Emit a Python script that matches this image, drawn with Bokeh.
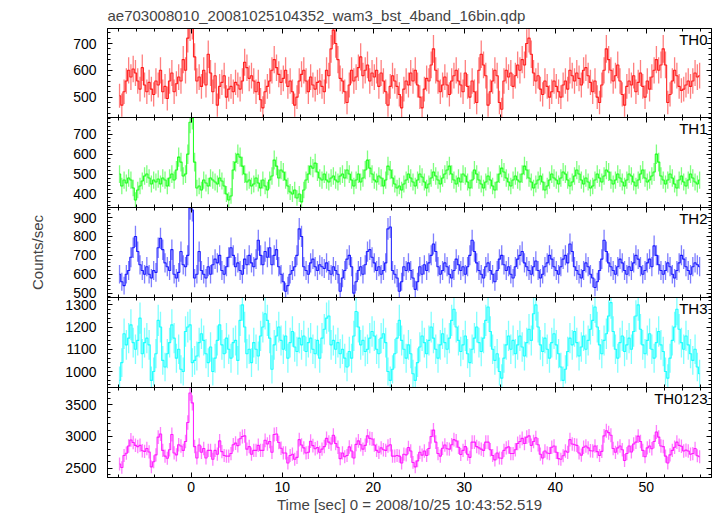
import numpy as np
from bokeh.plotting import figure
from bokeh.layouts import column
from bokeh.models import Range1d, SingleIntervalTicker, LinearAxis, Label, ColumnDataSource
from bokeh.embed import file_html
from bokeh.resources import INLINE

title_text = "ae703008010_20081025104352_wam3_bst_4band_16bin.qdp"
x_label = "Time [sec] 0 = 2008/10/25 10:43:52.519"
y_label = "Counts/sec"
band_names = ["TH0", "TH1", "TH2", "TH3", "TH0123"]

t_start = -8.0
bin_width = 0.25

th0 = [
    505, 470, 520, 560, 600, 575, 605, 590, 560, 530, 610, 545, 520, 555, 530, 510,
    560, 545, 600, 520, 540, 495, 560, 590, 520, 550, 575, 560, 640, 600, 720, 765,
    770, 650, 560, 575, 540, 600, 545, 660, 590, 520, 580, 470, 540, 555, 580, 500,
    530, 540, 520, 555, 545, 530, 560, 630, 610, 570, 580, 560, 520, 555, 490, 460,
    520, 540, 560, 600, 640, 610, 585, 555, 570, 600, 540, 560, 520, 470, 500, 560,
    585, 600, 560, 520, 575, 545, 530, 555, 560, 540, 520, 600, 580, 680, 750, 700,
    640, 570, 560, 520, 480, 545, 600, 560, 575, 610, 650, 580, 600, 620, 560, 590,
    575, 600, 540, 590, 560, 520, 470, 540, 580, 560, 540, 510, 460, 530, 560, 545,
    590, 560, 600, 545, 500, 460, 530, 570, 560, 620, 680, 600, 560, 520, 545, 575,
    545, 510, 560, 580, 600, 560, 545, 520, 590, 540, 500, 560, 520, 480, 600, 660,
    620, 580, 470, 520, 560, 600, 580, 480, 455, 560, 600, 575, 590, 540, 580, 620,
    600, 640, 620, 700, 720, 660, 590, 560, 580, 530, 510, 560, 540, 500, 520, 560,
    540, 520, 500, 545, 560, 530, 600, 580, 560, 590, 570, 545, 600, 610, 580, 555,
    520, 560, 500, 480, 545, 600, 680, 640, 600, 560, 580, 620, 560, 510, 470, 540,
    560, 545, 580, 520, 555, 590, 540, 500, 560, 530, 575, 600, 640, 600, 620, 680,
    620, 480, 510, 560, 600, 580, 540, 525, 530, 545, 560, 540, 560, 590, 575, 580,
]

th1 = [
    500, 440, 470, 455, 480, 470, 430, 370, 420, 440, 465, 490, 500, 480, 450, 470,
    460, 475, 450, 480, 470, 440, 480, 500, 470, 520, 585, 560, 490, 500, 600, 760,
    780, 560, 430, 440, 420, 470, 455, 440, 480, 470, 460, 450, 480, 465, 440, 400,
    370, 390, 520, 560, 600, 585, 540, 500, 460, 470, 440, 450, 480, 455, 430, 470,
    440, 420, 470, 490, 570, 540, 480, 520, 510, 470, 440, 410, 400, 420, 380, 400,
    360, 420, 470, 500, 540, 530, 555, 510, 480, 470, 500, 470, 460, 480, 490, 470,
    460, 490, 500, 480, 520, 500, 470, 440, 470, 500, 460, 480, 520, 570, 530, 500,
    470, 460, 490, 480, 440, 470, 540, 520, 480, 450, 430, 440, 420, 450, 470, 500,
    480, 460, 440, 470, 500, 485, 460, 430, 450, 480, 510, 490, 470, 450, 480, 500,
    520, 540, 500, 470, 450, 480, 460, 500, 490, 460, 430, 470, 520, 500, 470, 450,
    430, 460, 490, 470, 440, 420, 460, 500, 530, 510, 480, 460, 440, 470, 490, 470,
    460, 500, 540, 520, 480, 460, 430, 450, 470, 490, 460, 420, 440, 470, 500, 480,
    470, 450, 480, 510, 500, 470, 440, 460, 490, 520, 500, 470, 450, 480, 460, 430,
    440, 470, 500, 480, 460, 490, 520, 510, 470, 450, 470, 500, 480, 460, 440, 470,
    500, 490, 460, 440, 470, 500, 520, 480, 460, 470, 490, 510, 600, 560, 490, 470,
    450, 470, 500, 480, 450, 430, 470, 490, 460, 440, 470, 500, 480, 460, 450, 470,
]

th2 = [
    600, 560, 540, 600, 620, 690, 740, 800, 720, 650, 620, 600, 640, 600, 580, 620,
    610, 740, 790, 730, 660, 640, 620, 730, 600, 580, 610, 720, 650, 640, 700, 950,
    940, 580, 600, 720, 620, 600, 580, 640, 600, 650, 680, 660, 700, 620, 600, 640,
    690, 740, 700, 640, 660, 620, 600, 680, 650, 700, 660, 640, 680, 780, 700, 650,
    720, 690, 740, 650, 700, 730, 640, 600, 560, 510, 540, 600, 620, 640, 700, 840,
    800, 640, 620, 600, 660, 680, 640, 620, 650, 640, 630, 660, 620, 600, 640, 620,
    600, 510, 580, 620, 680, 700, 640, 500, 560, 620, 640, 600, 650, 720, 730, 690,
    660, 620, 640, 600, 620, 660, 840, 850, 620, 600, 580, 510, 560, 640, 620, 660,
    620, 580, 520, 560, 640, 600, 650, 620, 660, 700, 760, 720, 640, 600, 620, 660,
    640, 600, 580, 620, 680, 650, 620, 640, 600, 640, 700, 780, 720, 660, 620, 600,
    580, 640, 660, 620, 600, 560, 620, 680, 700, 650, 620, 640, 600, 580, 640, 680,
    700, 720, 660, 640, 620, 600, 640, 670, 620, 580, 600, 640, 660, 700, 680, 640,
    620, 600, 640, 680, 700, 660, 760, 720, 640, 620, 600, 580, 620, 660, 640, 600,
    580, 530, 560, 620, 680, 780, 720, 660, 640, 620, 600, 640, 680, 660, 620, 600,
    640, 620, 660, 700, 680, 640, 600, 620, 660, 680, 640, 750, 700, 650, 620, 600,
    620, 660, 640, 600, 580, 620, 660, 700, 680, 640, 620, 600, 640, 660, 650, 640,
]

th3 = [
    960, 1040, 1170, 1120, 1150, 1210, 1130, 1100, 1140, 1240, 1080, 1130, 1150, 1120, 960, 1000,
    1080, 1230, 1200, 1050, 1020, 1080, 1130, 1210, 1150, 1060, 1100, 1010, 1000, 1180, 1200, 1210,
    1040, 1050, 1070, 1130, 1170, 1140, 1080, 1040, 1110, 1000, 1060, 1140, 1210, 1120, 1080, 1150,
    1100, 1060, 1130, 1140, 1050, 1230, 1300, 1200, 1080, 1100, 1040, 1130, 1100, 1070, 1160, 1200,
    1260, 1230, 1150, 1010, 1120, 1160, 1200, 1140, 1100, 1160, 1060, 1130, 1180, 1110, 1090, 1150,
    1120, 1160, 1090, 1130, 1150, 1100, 1080, 1140, 1060, 1150, 1190, 1240, 1250, 1120, 1140, 1100,
    1130, 1080, 1100, 1060, 1020, 1090, 1060, 1160, 1270, 1200, 1120, 1140, 1090, 1100, 1150, 1180,
    1160, 1100, 1080, 1150, 1170, 1130, 1000, 960, 1010, 1080, 1150, 1230, 1140, 1100, 1060, 1120,
    1080, 990, 960, 1040, 1110, 1160, 1130, 1080, 1140, 1200, 1150, 1100, 1060, 1120, 1170, 1130,
    1100, 1150, 1230, 1280, 1200, 1140, 1090, 1120, 1160, 1080, 1040, 1100, 1150, 1200, 1130, 1090,
    1150, 1230, 1290, 1180, 1100, 1050, 1080, 1000, 970, 1060, 1120, 1160, 1100, 1140, 1080, 1120,
    1160, 1110, 1070, 1130, 1190, 1140, 1260, 1300, 1200, 1120, 1090, 1150, 1100, 1060, 1130, 1170,
    1120, 1080, 1020, 960, 1010, 1090, 1150, 1120, 1180, 1130, 1070, 1110, 1160, 1100, 1140, 1190,
    1230, 1290, 1200, 1120, 1080, 1140, 1170, 1250, 1310, 1180, 1100, 1060, 1130, 1160, 1090, 1120,
    1150, 1100, 1180, 1250, 1300, 1190, 1120, 1080, 1140, 1170, 1100, 1060, 1130, 1180, 1120, 1090,
    1000, 970, 1060, 1140, 1200, 1280, 1190, 1130, 1100, 1160, 1120, 1080, 1050, 1100, 1020, 990,
]

# TH0123 is the sum of the four energy bands
th0123 = [a + b + c + d for a, b, c, d in zip(th0, th1, th2, th3)]

series = [th0, th1, th2, th3, th0123]
y_limits = [(424, 756), (332, 784), (477, 953), (928, 1333), (2352, 3773)]
y_intervals = [100, 100, 100, 100, 500]
colors = ["#ff0000", "#00ff00", "#0000ff", "#00ffff", "#ff00ff"]

FONT = "Liberation Sans"
x_range = Range1d(-9.198, 57.18)

W = 717
FRAME_H = 90
PAD = 10          # border space that overlaps with the neighbouring panel
TOP0 = 27         # title area above the first panel
BOT_LAST = 39     # tick labels + axis title under the last panel
n = len(band_names)


def style_axis(ax, labels=True, major_in=5, minor_in=3):
    ax.major_tick_in = major_in
    ax.major_tick_out = 0
    ax.minor_tick_in = minor_in
    ax.minor_tick_out = 0
    ax.axis_line_color = "black"
    ax.axis_line_width = 1
    ax.major_tick_line_color = "black"
    ax.minor_tick_line_color = "black"
    if labels:
        ax.major_label_text_font = FONT
        ax.major_label_text_font_size = "14px"
        ax.major_label_text_color = "black"
    else:
        ax.major_label_text_font_size = "0px"
        ax.major_label_text_color = None
        ax.major_label_standoff = 0


figs = []
for i, (name, vals) in enumerate(zip(band_names, series)):
    top_b = TOP0 if i == 0 else PAD
    bot_b = BOT_LAST if i == n - 1 else PAD
    m_top = 0 if i == 0 else -PAD
    m_bot = 0 if i == n - 1 else -PAD
    p = figure(width=W, height=top_b + FRAME_H + bot_b, x_range=x_range,
               y_range=Range1d(*y_limits[i]),
               output_backend="svg", toolbar_location=None,
               x_axis_location=None, y_axis_location=None,
               min_border_left=107, min_border_right=6,
               min_border_top=top_b, min_border_bottom=bot_b,
               margin=(m_top, 0, m_bot, 0))
    p.grid.visible = False
    p.outline_line_color = "black"
    p.outline_line_width = 1
    p.background_fill_alpha = 0
    p.border_fill_alpha = 0

    left = LinearAxis(ticker=SingleIntervalTicker(interval=y_intervals[i], num_minor_ticks=5))
    style_axis(left)
    left.major_label_standoff = 11
    if i == 2:
        left.axis_label = y_label
        left.axis_label_text_font = FONT
        left.axis_label_text_font_style = "normal"
        left.axis_label_text_font_size = "15px"
        left.axis_label_standoff = 24
    p.add_layout(left, "left")

    right = LinearAxis(ticker=SingleIntervalTicker(interval=y_intervals[i], num_minor_ticks=5))
    style_axis(right, labels=False)
    p.add_layout(right, "right")

    above = LinearAxis(ticker=SingleIntervalTicker(interval=10, num_minor_ticks=5))
    style_axis(above, labels=False)
    p.add_layout(above, "above")

    below = LinearAxis(ticker=SingleIntervalTicker(interval=10, num_minor_ticks=5))
    if i == n - 1:
        style_axis(below)
        below.major_label_standoff = 4
        below.axis_label = x_label
        below.axis_label_text_font = FONT
        below.axis_label_text_font_style = "normal"
        below.axis_label_text_font_size = "15px"
        below.axis_label_standoff = 1
    else:
        style_axis(below, labels=False)
    p.add_layout(below, "below")

    if i == 0:
        p.title.text = title_text
        p.title.text_font = FONT
        p.title.text_font_size = "15px"
        p.title.text_font_style = "normal"
        p.title.align = "left"
        p.title.standoff = 9

    v = np.array(vals, dtype=float)
    tc = t_start + bin_width * (np.arange(len(v)) + 0.5)
    err = np.sqrt(v / bin_width)
    src = ColumnDataSource(dict(t=tc, v=v, lo=v - err, hi=v + err))
    # light error bars
    p.segment(x0="t", y0="lo", x1="t", y1="hi", source=src,
              line_color=colors[i], line_alpha=0.5, line_width=1.3)
    # step curve through the bin values
    p.step(x="t", y="v", source=src, mode="center",
           line_color=colors[i], line_alpha=0.85, line_width=1.1)

    lab = Label(x=x_range.end, y=y_limits[i][1], x_offset=-4, y_offset=-2,
                text=name, text_align="right", text_baseline="top",
                text_font=FONT, text_font_size="15px", text_color="black")
    p.add_layout(lab)
    figs.append(p)

layout = column(*figs, spacing=0)
open("out.html", "w").write(file_html(layout, INLINE))
